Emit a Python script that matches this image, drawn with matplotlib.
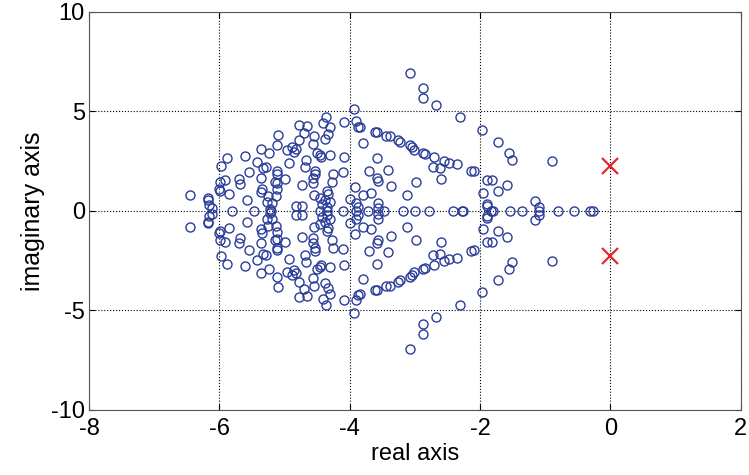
import numpy as np
import matplotlib
matplotlib.use('Agg')
import matplotlib.pyplot as plt

# ==============================
# Dados (polos no semiplano superior, espelhados depois)
# ==============================
upper_re = [-3.07, -2.87, -2.87, -2.68, -2.31, -3.94, -1.97, -1.72, -1.56, -1.51, -0.89,
            -4.09, -3.91, -3.88, -3.85, -3.80, -3.61, -3.58, -3.44, -3.39, -3.26, -3.23,
            -3.08, -3.05, -3.01, -2.87, -2.84, -2.71, -2.55, -2.48, -2.36, -2.72, -2.62,
            -2.60, -2.14, -2.10, -1.89, -1.81, -1.59, -1.72, -1.96, -1.89, -1.89, -1.16,
            -1.10,
            -3.70, -3.58, -3.42, -3.58, -3.56, -3.37, -2.98, -3.12, -3.68, -3.92, -3.80,
            -3.99, -3.90, -3.88, -3.57, -3.57,
            -4.09, -4.11, -4.25, -4.28, -4.31, -4.44, -4.46, -4.51, -4.57, -4.55, -4.38,
            -4.34, -4.31, -4.37, -4.41, -4.66, -4.78, -4.70, -4.78, -4.82, -4.67, -4.69,
            -4.53, -4.54, -4.57, -4.57, -4.74, -4.88, -4.86, -4.96, -4.94, -4.99, -5.12,
            -5.13, -5.26, -5.19, -5.22, -5.12, -5.15, -5.12, -5.12, -5.10, -5.12, -5.24,
            -5.37, -5.43, -5.33, -5.28, -5.36, -5.34, -5.37, -5.27, -5.61, -5.55, -5.58,
            -5.70, -5.68, -5.89, -5.92, -5.85, -5.98, -5.99, -6.00, -5.99, -6.18, -6.18,
            -6.16, -6.12, -6.45,
            -4.83, -4.74, -4.55, -4.46, -4.35, -4.33, -4.38, -4.43, -4.35, -4.30]
upper_im = [6.95, 6.17, 5.67, 5.32, 4.72, 5.12, 4.08, 3.48, 2.93, 2.57, 2.53,
            4.47, 4.50, 4.22, 4.20, 3.42, 3.95, 3.97, 3.78, 3.78, 3.55, 3.48,
            3.30, 3.23, 3.05, 2.90, 2.88, 2.73, 2.53, 2.43, 2.35, 2.23, 2.17,
            1.58, 2.02, 1.98, 1.55, 1.55, 1.30, 1.00, 0.92, 0.37, 0.27, 0.48,
            0.20,
            2.02, 2.68, 2.05, 1.63, 1.48, 1.25, 1.47, 0.80, 0.90, 1.18, 0.80,
            0.62, 0.40, 0.22, 0.40, 0.17,
            2.70, 1.93, 1.87, 1.45, 2.82, 2.70, 2.83, 2.93, 3.37, 3.75, 3.62,
            3.88, 4.20, 4.73, 4.42, 4.27, 4.33, 3.93, 3.58, 3.12, 2.55, 2.20,
            2.00, 1.85, 1.63, 1.38, 1.30, 3.20, 2.95, 3.05, 2.43, 1.58, 1.08,
            0.75, 0.77, 0.40, 0.10, 1.40, 1.45, 1.98, 1.85, 3.82, 3.33, 2.93,
            3.10, 2.45, 2.17, 2.20, 1.63, 1.12, 0.93, 0.43, 2.75, 1.97, 0.55,
            1.62, 1.35, 2.68, 1.55, 0.87, 2.25, 1.47, 1.10, 1.00, 0.63, 0.55,
            0.28, 0.17, 0.80,
            0.23, 0.23, 0.80, 0.67, 1.02, 0.87, 0.57, 0.33, 0.20, 0.43]

# polos reais
real_re = [-5.80, -5.47, -5.21, -4.46, -4.35, -4.10, -3.91, -3.72, -3.48, -3.18, -3.00,
           -2.78, -2.41, -2.28, -2.26, -1.83, -1.80, -1.54, -1.36, -1.09, -0.80, -0.56,
           -0.32, -0.27]

# zeros (x vermelhos)
zeros_re = [0.0, 0.0]
zeros_im = [2.25, -2.25]

# ==============================
# Plot
# ==============================
plt.rcParams['font.family'] = ['Liberation Sans', 'DejaVu Sans']
plt.rcParams['axes.unicode_minus'] = False

fig = plt.figure(figsize=(7.49, 4.75), dpi=100)
ax = fig.add_axes([0.119, 0.137, 0.870, 0.838])

re = np.array(upper_re + upper_re + real_re)
im = np.array(upper_im + [-v for v in upper_im] + [0.0] * len(real_re))

ax.plot(re, im, 'o', mfc='none', mec='#2a3c9a', ms=6.5, mew=1.0, ls='none')
ax.plot(zeros_re, zeros_im, 'x', color='#e8262a', ms=12, mew=1.6, ls='none')

ax.set_xlim(-8, 2)
ax.set_ylim(-10, 10)
ax.set_xticks(range(-8, 3, 2))
ax.set_yticks([-10, -5, 0, 5, 10])
ax.grid(True, ls=':', color='black', lw=0.8)
ax.tick_params(direction='in', labelsize=17, length=4, top=True, right=True)
ax.tick_params(axis='x', pad=6)
ax.tick_params(axis='y', pad=3)
for s in ax.spines.values():
    s.set_color('#555555')
ax.set_xlabel('real axis', fontsize=17, labelpad=2)
ax.set_ylabel('imaginary axis', fontsize=18, labelpad=4)

fig.savefig('out.png', dpi=100)
